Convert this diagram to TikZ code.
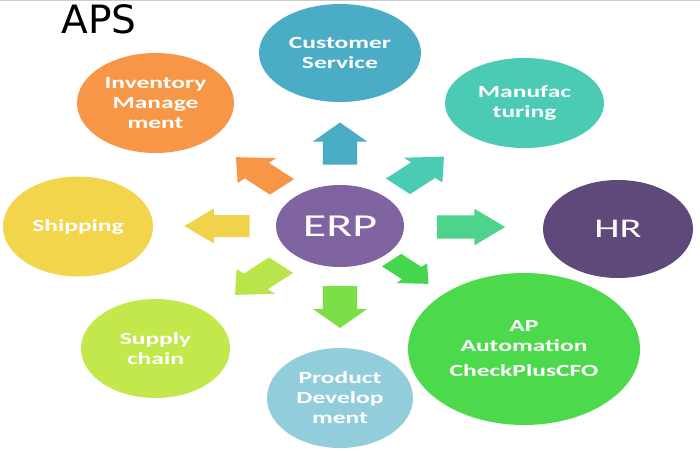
\documentclass[tikz,border=0pt]{standalone}
\usepackage{fontspec}
\setmainfont{Carlito}
\newfontfamily\labfont[FakeStretch=1.5]{Carlito}
\newfontfamily\apsfont{DejaVu Sans}
\usetikzlibrary{shapes.geometric}
\definecolor{cserv}{HTML}{4BACC6}
\definecolor{cmanu}{HTML}{4BCBB4}
\definecolor{chr}{HTML}{5F497A}
\definecolor{cap}{HTML}{4CD94C}
\definecolor{cprod}{HTML}{92CDDC}
\definecolor{csup}{HTML}{C3E84B}
\definecolor{cship}{HTML}{F2D54B}
\definecolor{cinv}{HTML}{F79646}
\definecolor{cerp}{HTML}{8064A2}
\definecolor{aup}{HTML}{4BACC6}
\definecolor{aupr}{HTML}{4BCBB4}
\definecolor{aright}{HTML}{4DD38C}
\definecolor{adownr}{HTML}{46D64E}
\definecolor{adown}{HTML}{7CDF46}
\definecolor{adownl}{HTML}{B9E54B}
\definecolor{aleft}{HTML}{F0D34B}
\definecolor{aupl}{HTML}{F79646}
\newcommand{\barrow}[5]{%
  \begin{scope}[shift={(#1,#2)}, xscale=1.55, rotate=#3, scale=#5]
    \fill[#4] (-21,-11) -- (2,-11) -- (2,-17.5) -- (21,0) -- (2,17.5) -- (2,11) -- (-21,11) -- cycle;
  \end{scope}}
\begin{document}
\begin{tikzpicture}[x=1pt,y=-1pt,
  bubble/.style={ellipse, inner sep=0pt, text=white, align=center,
    font=\labfont\bfseries\fontsize{17}{20}\selectfont},
  bigbubble/.style={ellipse, inner sep=0pt, text=white, align=center,
    font=\labfont\fontsize{32}{34}\selectfont}]
\useasboundingbox (0,0) rectangle (700,450);
\fill[white] (0,0) rectangle (700,450);
\draw[black!20, line width=1.3pt] (0,0.6) -- (700,0.6);

\node[anchor=base west] (aps) at (58,33) {\apsfont\fontsize{39}{40}\selectfont APS};

\node[bigbubble, fill=cerp, minimum width=128, minimum height=82] (erp) at (340,226) {ERP};
\node[bubble, fill=cserv, minimum width=162, minimum height=98] (serv) at (340,53) {Customer\\Service};
\node[bubble, fill=cmanu, minimum width=159, minimum height=90] (manu) at (524.5,103) {Manufac\\turing};
\node[bigbubble, fill=chr, minimum width=150, minimum height=98, font=\labfont\fontsize{27}{30}\selectfont] (hr) at (618,229) {HR};
\node[bubble, fill=cap, minimum width=232, minimum height=152] (ap) at (524,349) {AP\\Automation\\[5pt]CheckPlusCFO};
\node[bubble, fill=cprod, minimum width=146, minimum height=100] (prod) at (340,398) {Product\\Develop\\ment};
\node[bubble, fill=csup, minimum width=149, minimum height=99] (sup) at (155.5,348.5) {Supply\\chain};
\node[bubble, fill=cship, minimum width=150, minimum height=100] (ship) at (78,226.5) {Shipping};
\node[bubble, fill=cinv, minimum width=157, minimum height=100] (inv) at (155.5,103) {Inventory\\Manage\\ment};

\barrow{340}{143.5}{90}{aup}{1}
\barrow{421}{171.5}{45}{aupr}{1}
\barrow{471}{227}{0}{aright}{1.05}
\barrow{410}{272}{-45}{adownr}{0.8}
\barrow{340}{307}{-90}{adown}{1}
\barrow{258}{280}{-135}{adownl}{1}
\barrow{217}{226}{180}{aleft}{1}
\barrow{259}{172}{135}{aupl}{1}
\end{tikzpicture}
\end{document}
